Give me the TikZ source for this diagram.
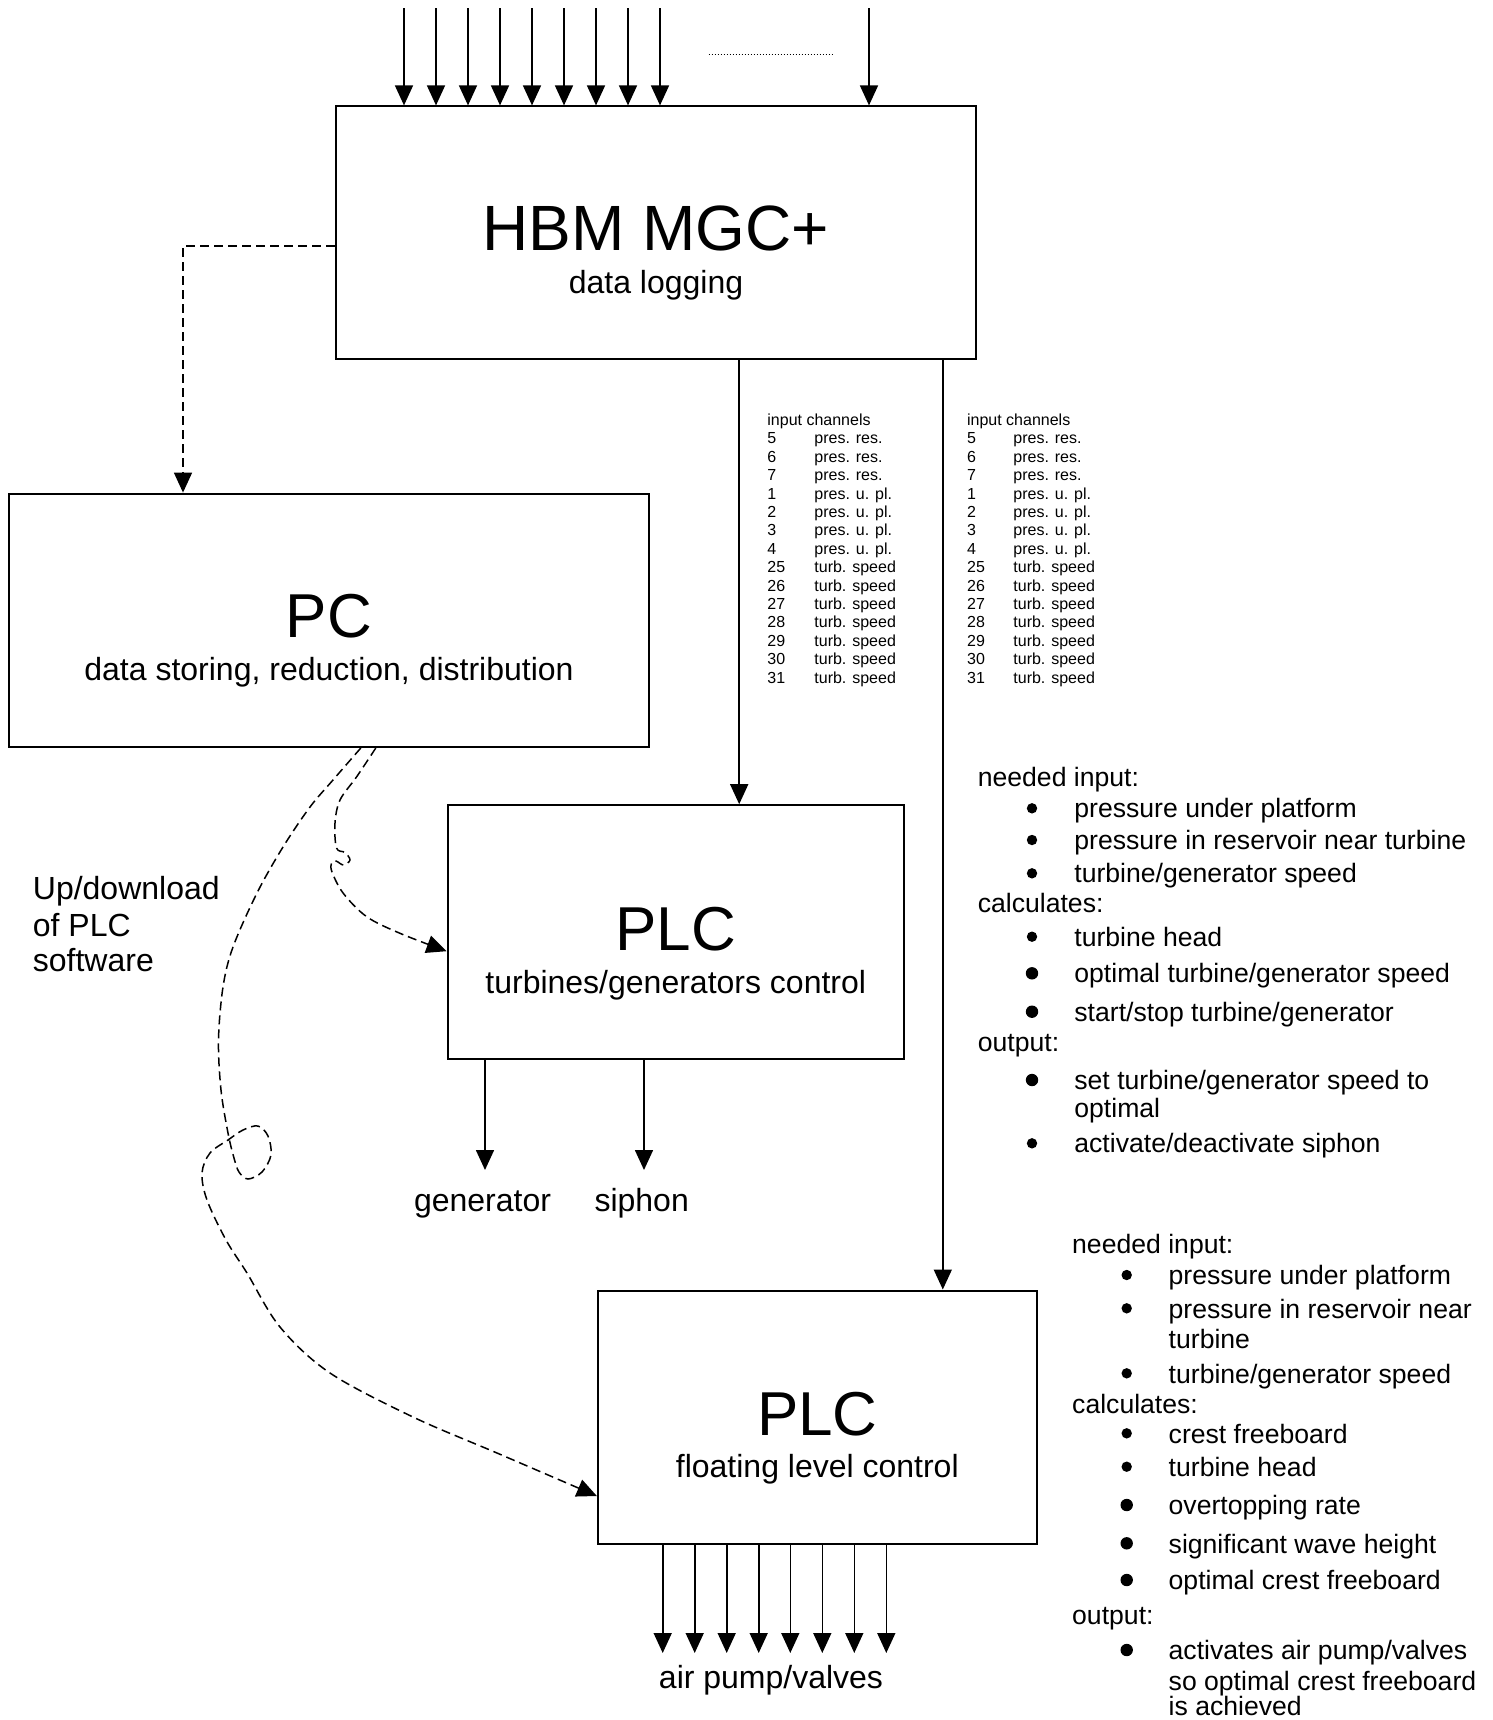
\documentclass[tikz,border=0pt]{standalone}
\usepackage{fontspec}
\setmainfont{Liberation Sans}
\usetikzlibrary{arrows.meta,calc}
\begin{document}
\begin{tikzpicture}[x=0.5pt,y=-0.5pt,
  box/.style={draw, line width=1pt, inner sep=0pt},
  tipA/.style={-{Triangle[length=10pt,width=9pt]}},
  arr/.style={line width=0.8pt, tipA},
  dsh/.style={line width=0.75pt, dash pattern=on 4.5pt off 2.5pt},
  dots/.style={line width=0.6pt, dash pattern=on 0.5pt off 1pt},
  big/.style={font=\fontsize{31}{36}\selectfont, anchor=base, inner sep=0pt},
  sub/.style={font=\fontsize{16}{19}\selectfont, anchor=base, inner sep=0pt},
  side/.style={font=\fontsize{16}{19}\selectfont, anchor=base west, inner sep=0pt},
  tbl/.style={font=\fontsize{8}{9}\selectfont, anchor=mid west, inner sep=0pt},
  note/.style={font=\fontsize{13.3}{16}\selectfont, anchor=mid west, inner sep=0pt, yshift=-2.2pt},
]
\useasboundingbox (0,0) rectangle (1493,1720);

% boxes
\node[box, minimum width=320.3pt, minimum height=126.15pt] (hbm) at (656,232.55) {};
\node[box, minimum width=320.3pt, minimum height=126.7pt] (pc) at (329.1,620.3) {};
\node[box, minimum width=228.15pt, minimum height=126.7pt] (plc1) at (675.75,931.9) {};
\node[box, minimum width=219.4pt, minimum height=126.9pt] (plc2) at (817.3,1417.4) {};

% box texts
\node[big, font=\fontsize{32}{37}\selectfont] (hbmT) at (656,250) {HBM MGC+};
\node[sub] (hbmS) at (656,293) {data logging};
\node[big] (pcT) at (329,637) {PC};
\node[sub] (pcS) at (329,680) {data storing, reduction, distribution};
\node[big] (plc1T) at (675.75,950) {PLC};
\node[sub] (plc1S) at (675.75,993) {turbines/generators control};
\node[big] (plc2T) at (817.3,1435) {PLC};
\node[sub] (plc2S) at (817.3,1477.5) {floating level control};

% input arrows at top
\foreach \i/\x in {1/404,2/436,3/468,4/500,5/532,6/564,7/596,8/628,9/660,10/869}{
  \coordinate (in\i) at (\x,8);
  \draw[arr] (in\i) -- (in\i |- hbm.north);
}
\coordinate (dotA) at (708.6,54.5);
\coordinate (dotB) at (833.6,54.5);
\draw[dots] (dotA) -- (dotB);

% HBM -> PLCs
\coordinate (x1) at (739.2,0);
\coordinate (x2) at (942.8,0);
\draw[arr] (hbm.south -| x1) -- (plc1.north -| x1);
\draw[arr] (hbm.south -| x2) -- (plc2.north -| x2);

% HBM -> PC dashed
\coordinate (x0) at (183,0);
\draw[dsh, tipA] ($(hbm.west)+(0,13.2)$) -| (pc.north -| x0);

% PC -> PLC1 dashed curve
\coordinate (a0) at ($(pc.south west)+(368,0)$);
\coordinate (a1) at ($(plc1.north west)+(0,147)$);
\draw[dsh, tipA] plot[smooth, tension=0.55] coordinates {(a0) (356.7,776.7) (340,800) (335,823) (336.5,848) (345,852.5) (350,860) (343.5,865) (336,861) (331.5,863) (332,872) (343.3,893.3) (366.7,916.7) (400,933.3) (a1)};

% PC -> PLC2 dashed curve
\coordinate (b0) at ($(pc.south west)+(353,0)$);
\coordinate (b1) at ($(plc2.north west)+(0,206.5)$);
\draw[dsh, tipA] plot[smooth, tension=0.55] coordinates {(b0) (333,780) (310,807) (283,847) (257,893) (233,947) (223,987) (218.5,1040) (221,1090) (228,1133) (234,1158) (239,1172) (248,1179) (262,1172) (271,1155) (268,1136) (258,1126) (243,1130) (228,1140) (210,1153) (202,1173) (207,1200) (226,1240) (247,1273) (280,1327) (330,1373) (413,1417) (497,1453) (b1)};

% left label
\node[side] (up1) at (32.5,899.3) {Up/download};
\node[side] (up2) at (32.5,936) {of PLC};
\node[side] (up3) at (32.5,971.7) {software};

% PLC1 outputs
\coordinate (gtip) at (485,1170);
\coordinate (stip) at (644,1170);
\draw[arr] (plc1.south -| gtip) -- (gtip);
\draw[arr] (plc1.south -| stip) -- (stip);
\node[sub] (gen) at (482.5,1211.7) {generator};
\node[sub] (siph) at (641.7,1211.7) {siphon};

% PLC2 outputs
\foreach \i/\x in {1/662.7,2/694.7,3/726.7,4/758.7,5/790.3,6/822.3,7/854.3,8/886.3}{
  \coordinate (o\i) at (\x,1653);
  \draw[arr] (plc2.south -| o\i) -- (o\i);
}
\node[sub] (air) at (771,1688) {air pump/valves};

% channel tables
\node[tbl] (tLh) at (767,420.2) {input channels};
\node[tbl] (tRh) at (966.7,420.2) {input channels};
\foreach \n/\t [count=\k] in {5/pres. res.,6/pres. res.,7/pres. res.,1/pres. u. pl.,2/pres. u. pl.,3/pres. u. pl.,4/pres. u. pl.,25/turb. speed,26/turb. speed,27/turb. speed,28/turb. speed,29/turb. speed,30/turb. speed,31/turb. speed}{
  \node[tbl] (tLn\k) at (767,420.2+18.4*\k) {\n};
  \node[tbl] (tLt\k) at (814,420.2+18.4*\k) {\t};
  \node[tbl] (tRn\k) at (966.7,420.2+18.4*\k) {\n};
  \node[tbl] (tRt\k) at (1013,420.2+18.4*\k) {\t};
}

% notes block 1
\node[note] (pa1) at (977.4,776.7) {needed input:};
\node[note] (pa2) at (1074,808.3) {pressure under platform};
\node[note] (pa3) at (1074,840) {pressure in reservoir near turbine};
\node[note] (pa4) at (1074,873.3) {turbine/generator speed};
\node[note] (pa5) at (977.4,903.3) {calculates:};
\node[note] (pa6) at (1074,936.7) {turbine head};
\node[note] (pa7) at (1074,973.3) {optimal turbine/generator speed};
\node[note] (pa8) at (1074,1011.7) {start/stop turbine/generator};
\node[note] (pa9) at (977.4,1041.7) {output:};
\node[note] (pa10) at (1074,1080) {set turbine/generator speed to};
\node[note] (pa11) at (1074,1108.3) {optimal};
\node[note] (pa12) at (1074,1143.3) {activate/deactivate siphon};
\foreach \y in {808.3,840,873.3,936.7,1143.3}{\fill (1032,\y) circle[radius=2.6pt];}
\foreach \y in {973.3,1011.7,1080}{\fill (1032,\y) circle[radius=3.1pt];}

% notes block 2
\node[note] (pb1) at (1071.8,1243.3) {needed input:};
\node[note] (pb2) at (1168.3,1275) {pressure under platform};
\node[note] (pb3) at (1168.3,1308.3) {pressure in reservoir near};
\node[note] (pb4) at (1168.3,1338.3) {turbine};
\node[note] (pb5) at (1168.3,1373.3) {turbine/generator speed};
\node[note] (pb6) at (1071.8,1403.3) {calculates:};
\node[note] (pb7) at (1168.3,1433.3) {crest freeboard};
\node[note] (pb8) at (1168.3,1466.7) {turbine head};
\node[note] (pb9) at (1168.3,1505) {overtopping rate};
\node[note] (pb10) at (1168.3,1543.3) {significant wave height};
\node[note] (pb11) at (1168.3,1580) {optimal crest freeboard};
\node[note] (pb12) at (1071.8,1615) {output:};
\node[note] (pb13) at (1168.3,1650) {activates air pump/valves};
\node[note] (pb14) at (1168.3,1680.5) {so optimal crest freeboard};
\node[note] (pb15) at (1168.3,1706) {is achieved};
\foreach \y in {1275,1308.3,1373.3,1433.3,1466.7}{\fill (1126.7,\y) circle[radius=2.6pt];}
\foreach \y in {1505,1543.3,1580,1650}{\fill (1126.7,\y) circle[radius=3.1pt];}
\end{tikzpicture}
\end{document}
